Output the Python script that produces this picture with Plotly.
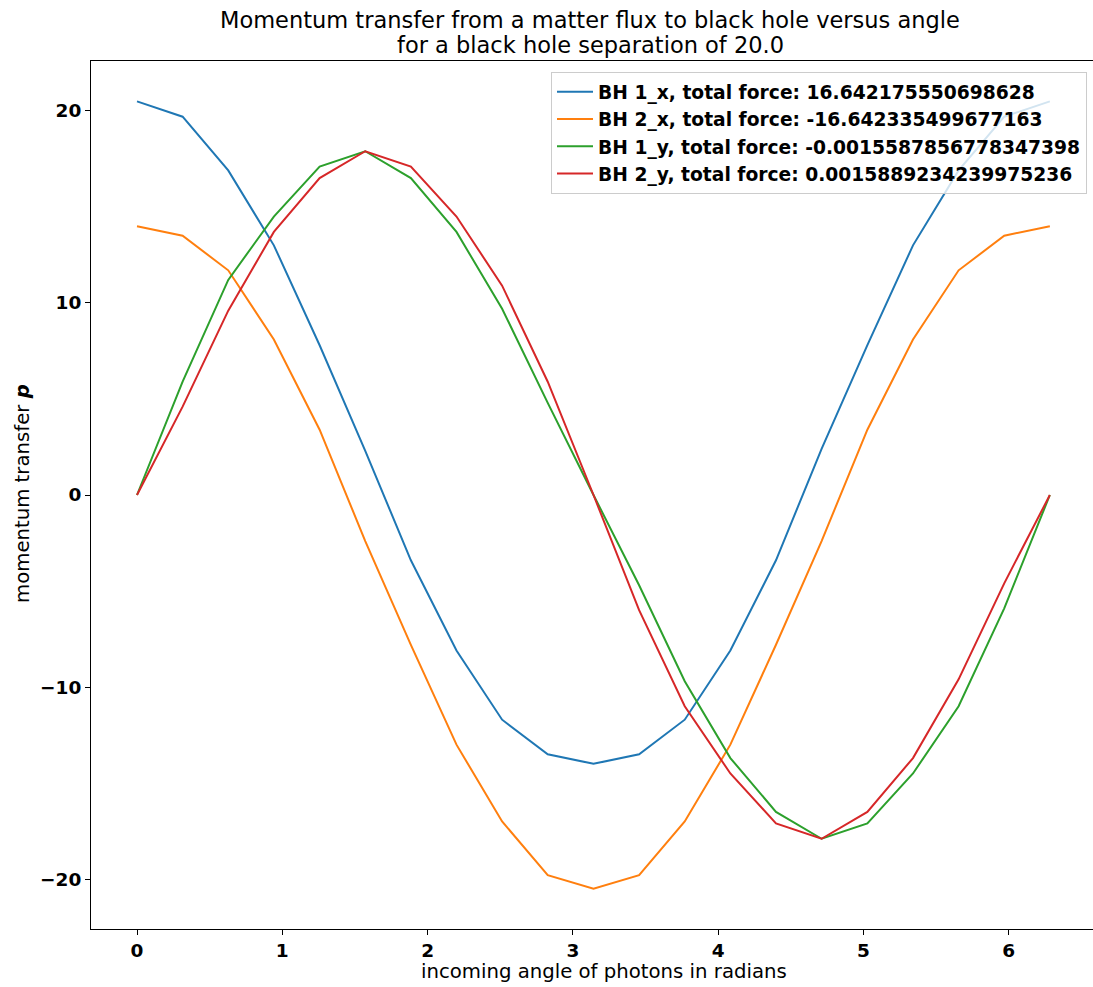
import plotly.graph_objects as go

angles = [0.0, 0.314, 0.628, 0.942, 1.257, 1.571, 1.885, 2.199, 2.513, 2.827, 3.142,
          3.456, 3.770, 4.084, 4.398, 4.712, 5.027, 5.341, 5.655, 5.969, 6.283]
bh1_x = [20.5, 19.7, 16.9, 13.0, 7.8, 2.3, -3.4, -8.1, -11.7, -13.5, -14.0,
         -13.5, -11.7, -8.1, -3.4, 2.4, 7.8, 13.0, 16.9, 19.7, 20.5]
bh2_x = [14.0, 13.5, 11.7, 8.1, 3.4, -2.4, -7.8, -13.0, -17.0, -19.8, -20.5,
         -19.8, -17.0, -13.0, -7.8, -2.4, 3.4, 8.1, 11.7, 13.5, 14.0]
bh1_y = [0.0, 5.9, 11.2, 14.5, 17.1, 17.9, 16.5, 13.7, 9.7, 4.8, 0.0,
         -4.7, -9.7, -13.7, -16.5, -17.9, -17.1, -14.5, -11.0, -5.9, 0.0]
bh2_y = [0.0, 4.6, 9.6, 13.7, 16.5, 17.9, 17.1, 14.5, 10.9, 5.9, 0.0,
         -6.0, -11.0, -14.5, -17.1, -17.9, -16.5, -13.7, -9.6, -4.6, 0.0]

names = ["BH 1_x, total force: 16.642175550698628",
         "BH 2_x, total force: -16.642335499677163",
         "BH 1_y, total force: -0.0015587856778347398",
         "BH 2_y, total force: 0.0015889234239975236"]
colors = ["#1f77b4", "#ff7f0e", "#2ca02c", "#d62728"]
series = [bh1_x, bh2_x, bh1_y, bh2_y]

fig = go.Figure()
for i, (n, c, s) in enumerate(zip(names, colors, series)):
    fig.add_trace(go.Scatter(x=angles, y=s, mode="lines", name=n, legendgroup=f"g{i}",
                             line=dict(color=c, width=2)))

ff = "DejaVu Sans"
W, H = 1093, 987
L, R, T, B = 91, 0, 61, 58
pw, ph = W - L - R, H - T - B


def px(x):
    return (x - L) / pw


def py(y):
    return (H - B - y) / ph


fig.update_layout(
    width=W, height=H,
    margin=dict(l=L, r=R, t=T, b=B),
    paper_bgcolor="white", plot_bgcolor="white",
    font=dict(family=ff, color="black"),
    showlegend=True,
    legend=dict(x=px(1087), y=py(72), xanchor="right", yanchor="top",
                bgcolor="rgba(255,255,255,0.8)", bordercolor="#cccccc", borderwidth=1,
                font=dict(size=18.7, family=ff, weight="bold"),
                tracegroupgap=0, itemwidth=36),
)
annos = [
    dict(text="Momentum transfer from a matter flux to black hole versus angle",
         x=px(590), y=py(20), size=22.5, angle=0),
    dict(text="for a black hole separation of 20.0",
         x=px(590), y=py(45), size=22.5, angle=0),
    dict(text="incoming angle of photons in radians",
         x=px(604), y=py(972), size=19.7, angle=0),
    dict(text="momentum transfer <b><i>p</i></b>",
         x=px(22), y=py(494), size=19.7, angle=-90),
]
for a in annos:
    fig.add_annotation(text=a["text"], x=a["x"], y=a["y"], xref="paper", yref="paper",
                       xanchor="center", yanchor="middle", showarrow=False,
                       textangle=a["angle"], font=dict(size=a["size"], family=ff, color="black"))

fig.update_xaxes(range=[-0.3166, 6.58], showgrid=False, zeroline=False,
                 showline=True, linecolor="black", linewidth=1, mirror=True,
                 ticks="outside", ticklen=5, tickcolor="black",
                 tickvals=[0, 1, 2, 3, 4, 5, 6],
                 tickfont=dict(size=18.5, family=ff, weight="bold"))
fig.update_yaxes(range=[-22.6, 22.6], showgrid=False, zeroline=False,
                 showline=True, linecolor="black", linewidth=1,
                 ticks="outside", ticklen=5, tickcolor="black",
                 tickvals=[-20, -10, 0, 10, 20],
                 ticktext=["\u221220", "\u221210", "0", "10", "20"],
                 tickfont=dict(size=18.5, family=ff, weight="bold"))

fig.write_html("out.html")
